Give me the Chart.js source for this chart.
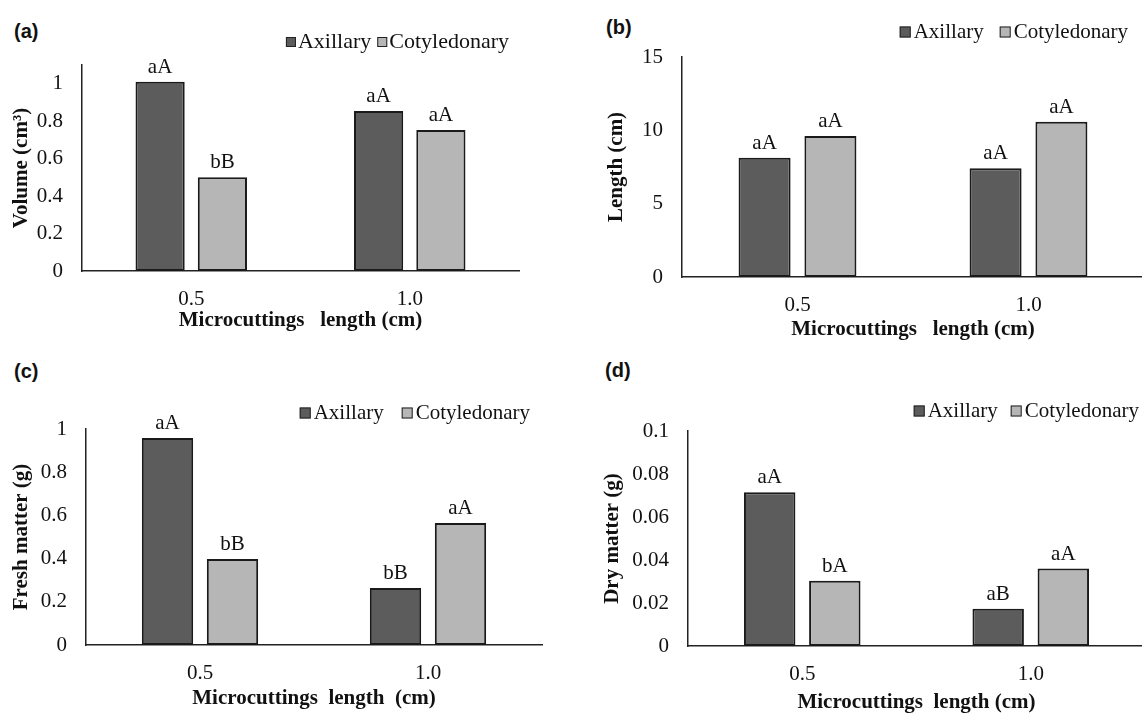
<!DOCTYPE html>
<html>
<head>
<meta charset="utf-8">
<script src="https://cdn.jsdelivr.net/npm/chart.js@4.4.1/dist/chart.umd.min.js"></script>
<style>
  body { margin: 0; width: 1142px; height: 713px; overflow: hidden; position: relative; background: #fff; }
  canvas { position: absolute; }
  .lab { position: absolute; font: bold 20px 'Liberation Sans', Arial, sans-serif; line-height: 20px; color: #111; }
</style>
</head>
<body>
<div class="lab" style="left:14px; top:21px">(a)</div>
<div class="lab" style="left:606px; top:17px">(b)</div>
<div class="lab" style="left:14px; top:361px">(c)</div>
<div class="lab" style="left:605px; top:360px">(d)</div>
<canvas id="chartA" width="571" height="340" style="left:0; top:0"></canvas>
<canvas id="chartB" width="575" height="340" style="left:571px; top:0"></canvas>
<canvas id="chartC" width="571" height="373" style="left:0; top:340px"></canvas>
<canvas id="chartD" width="575" height="373" style="left:571px; top:340px"></canvas>
<script>
const categories = ['0.5', '1.0'];
const seriesNames = ['Axillary', 'Cotyledonary'];

// (a) volume
const volumeAxillary = [1.01, 0.855];
const volumeCotyledonary = [0.50, 0.753];
const volumeLettersAx = ['aA', 'aA'];
const volumeLettersCot = ['bB', 'aA'];

// (b) length
const lengthAxillary = [8.13, 7.41];
const lengthCotyledonary = [9.61, 10.59];
const lengthLettersAx = ['aA', 'aA'];
const lengthLettersCot = ['aA', 'aA'];

// (c) fresh matter
const freshAxillary = [0.958, 0.264];
const freshCotyledonary = [0.398, 0.565];
const freshLettersAx = ['aA', 'bB'];
const freshLettersCot = ['bB', 'aA'];

// (d) dry matter
const dryAxillary = [0.0715, 0.0173];
const dryCotyledonary = [0.0304, 0.036];
const dryLettersAx = ['aA', 'aB'];
const dryLettersCot = ['bA', 'aA'];

const serif = "'Liberation Serif', 'Times New Roman', serif";
const darkGray = '#5c5c5c';
const lightGray = '#b6b6b6';

// letters above the bars
const letterPlugin = {
    id: 'letters',
    afterDatasetsDraw(chart, args, opts) {
        const ctx = chart.ctx;
        ctx.save();
        ctx.font = '21px ' + serif;
        ctx.fillStyle = '#111';
        ctx.textAlign = 'center';
        ctx.textBaseline = 'alphabetic';
        chart.data.datasets.forEach((ds, i) => {
            chart.getDatasetMeta(i).data.forEach((bar, j) => {
                ctx.fillText(opts.letters[i][j], bar.x, bar.y - 9);
            });
        });
        ctx.restore();
    }
};

// small square legend like the original figure
const boxLegend = {
    id: 'boxLegend',
    afterDraw(chart, args, opts) {
        const ctx = chart.ctx;
        const area = chart.chartArea;
        ctx.save();
        ctx.font = opts.size + 'px ' + serif;
        ctx.textBaseline = 'middle';
        const items = chart.data.datasets.map(ds => ({
            text: ds.label,
            color: ds.backgroundColor,
            w: ctx.measureText(ds.label).width
        }));
        let total = opts.gap * (items.length - 1);
        items.forEach(it => total += opts.box + opts.textGap + it.w);
        let x = area.right - opts.right - total;
        const y = area.top - opts.above;
        items.forEach(it => {
            ctx.fillStyle = it.color;
            ctx.fillRect(x, y - opts.box / 2, opts.box, opts.box);
            ctx.strokeStyle = '#222';
            ctx.lineWidth = 1;
            ctx.strokeRect(x + 0.5, y - opts.box / 2 + 0.5, opts.box - 1, opts.box - 1);
            x += opts.box + opts.textGap;
            ctx.fillStyle = '#111';
            ctx.fillText(it.text, x, y);
            x += it.w + opts.gap;
        });
        ctx.restore();
    }
};

function makeChart(id, p) {
    const ctx = document.getElementById(id).getContext('2d');
    return new Chart(ctx, {
        type: 'bar',
        data: {
            labels: categories,
            datasets: [
                { label: seriesNames[0], data: p.ax, backgroundColor: darkGray },
                { label: seriesNames[1], data: p.cot, backgroundColor: lightGray }
            ]
        },
        options: {
            responsive: false,
            animation: false,
            events: [],
            datasets: {
                bar: {
                    borderColor: '#1a1a1a',
                    borderWidth: 2,
                    borderSkipped: false,
                    categoryPercentage: 0.57,
                    barPercentage: 0.79
                }
            },
            layout: { padding: { top: p.top, right: p.right, left: 0, bottom: 0 } },
            scales: {
                x: {
                    grid: { display: false, drawTicks: false },
                    border: { display: true, color: '#222', width: 1.5 },
                    ticks: { color: '#111', font: { family: serif, size: 21 }, padding: 16 },
                    title: {
                        display: true,
                        text: p.xTitle,
                        color: '#111',
                        font: { family: serif, size: 21, weight: 'bold', lineHeight: 1 },
                        padding: { top: 0, bottom: p.xTitlePad }
                    },
                    afterFit: s => { s.height = p.xHeight; }
                },
                y: {
                    min: 0,
                    max: p.max,
                    grid: { display: false, drawTicks: false },
                    border: { display: true, color: '#222', width: 1.5 },
                    ticks: {
                        stepSize: p.step,
                        includeBounds: false,
                        color: '#111',
                        font: { family: serif, size: 21 },
                        padding: 19,
                        callback: v => String(parseFloat(v.toFixed(6)))
                    },
                    title: {
                        display: true,
                        text: p.yTitle,
                        color: '#111',
                        font: { family: serif, size: 21, weight: 'bold', lineHeight: 1 },
                        padding: { top: p.yTitlePad, bottom: 0 }
                    },
                    afterFit: s => { s.width = p.yWidth; }
                }
            },
            plugins: {
                legend: { display: false },
                tooltip: { enabled: false },
                letters: { letters: p.letters },
                boxLegend: p.legend
            }
        },
        plugins: [letterPlugin, boxLegend]
    });
}

makeChart('chartA', {
    ax: volumeAxillary, cot: volumeCotyledonary, letters: [volumeLettersAx, volumeLettersCot],
    max: 1.1, step: 0.2,
    yTitle: 'Volume (cm³)', xTitle: 'Microcuttings   length (cm)',
    top: 65, right: 52, yWidth: 82, xHeight: 69, xTitlePad: 8.5, yTitlePad: 11.5,
    legend: { size: 22, box: 10, textGap: 2, gap: 6, right: 10, above: 23 }
});

makeChart('chartB', {
    ax: lengthAxillary, cot: lengthCotyledonary, letters: [lengthLettersAx, lengthLettersCot],
    max: 15, step: 5,
    yTitle: 'Length (cm)', xTitle: 'Microcuttings   length (cm)',
    top: 57, right: 2, yWidth: 111, xHeight: 63, xTitlePad: 0, yTitlePad: 35.5,
    legend: { size: 21, box: 11, textGap: 3, gap: 16, right: 16, above: 25 }
});

makeChart('chartC', {
    ax: freshAxillary, cot: freshCotyledonary, letters: [freshLettersAx, freshLettersCot],
    max: 1, step: 0.2,
    yTitle: 'Fresh matter (g)', xTitle: 'Microcuttings  length  (cm)',
    top: 89, right: 29, yWidth: 86, xHeight: 68, xTitlePad: 4, yTitlePad: 11.5,
    legend: { size: 21, box: 11, textGap: 3, gap: 18, right: 12, above: 16 }
});

makeChart('chartD', {
    ax: dryAxillary, cot: dryCotyledonary, letters: [dryLettersAx, dryLettersCot],
    max: 0.1, step: 0.02,
    yTitle: 'Dry matter (g)', xTitle: 'Microcuttings  length (cm)',
    top: 91, right: 1, yWidth: 117, xHeight: 67, xTitlePad: 0, yTitlePad: 31.5,
    legend: { size: 21, box: 11, textGap: 3, gap: 13, right: 6, above: 20 }
});
</script>
</body>
</html>
